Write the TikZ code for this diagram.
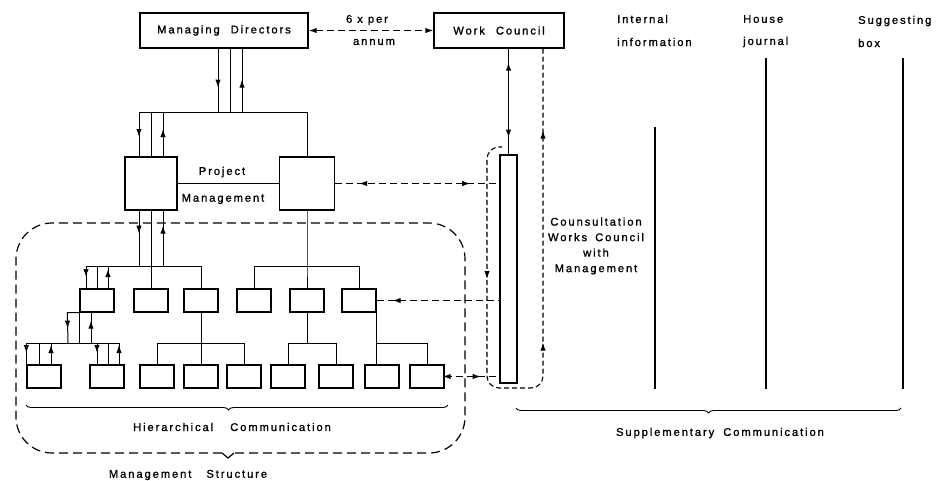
\documentclass[tikz,border=0pt]{standalone}
\usepackage{fontspec}
\newfontfamily\diafont[LetterSpace=17,FakeBold=1.2]{Liberation Sans}
\usetikzlibrary{arrows.meta,decorations.pathreplacing,decorations.markings}

\begin{document}
\begin{tikzpicture}[x=1pt,y=-1pt,
    font=\diafont\fontsize{11.2}{15.5}\selectfont,
    >={Latex[length=8pt,width=5.4pt]},
    box/.style={draw,line width=1.3pt,minimum width=34pt,minimum height=23pt,inner sep=0pt},
    lbl/.style={inner sep=0pt},
    link/.style={line width=1pt},
    dlink/.style={line width=1.1pt,dash pattern=on 7pt off 4pt},
    fwd/.style={postaction={decorate,decoration={markings,mark=at position #1 with {\arrow{>}}}}},
    bwd/.style={postaction={decorate,decoration={markings,mark=at position #1 with {\arrow{<}}}}}
  ]
  \useasboundingbox (0,0) rectangle (947,480);

  % top level
  \node[box,minimum width=168pt,minimum height=35pt] (md) at (224,30.5) {Managing\hspace{6pt} Directors};
  \node[box,minimum width=130pt,minimum height=35pt] (wc) at (499,30.5) {Work\hspace{6pt} Council};
  \draw[dlink,<->] (md) -- (wc);
  \node[lbl] (freq) at (367,20) {6 x per};
  \node[lbl] (annum) at (374,42) {annum};

  % project management
  \node[box,minimum width=52pt,minimum height=53pt] (pml) at (151,183.5) {};
  \node[box,minimum width=55pt,minimum height=53pt] (pmr) at (307,183.5) {};
  \draw[link] (pml) -- (pmr);
  \node[lbl] (proj) at (222,172) {Project};
  \node[lbl] (mgmt) at (223,199) {Management};

  % section heads and groups
  \foreach \n/\x in {a1/97,a2/151,a3/201,a4/254,a5/307,a6/359}
    \node[box] (\n) at (\x,300.5) {};
  \foreach \n/\x in {c1/44,c2/107,c3/157,c4/201,c5/244,c6/288,c7/336,c8/382,c9/427}
    \node[box] (\n) at (\x,376.5) {};

  % works council bar
  \node[draw,line width=1.3pt,minimum width=17pt,minimum height=228pt,inner sep=0pt] (bar) at (508.5,269) {};

  % directors -> project management
  \coordinate (b0) at (0,112);
  \draw[link,fwd=39pt] ([xshift=-6pt]md.south) -- ([xshift=-6pt]md.south |- b0);
  \draw[link] ([xshift=6pt]md.south) -- ([xshift=6pt]md.south |- b0);
  \draw[link,bwd=39pt] ([xshift=18pt]md.south) -- ([xshift=18pt]md.south |- b0);
  \draw[link] ([xshift=-12pt]pml.north |- b0) -- (pmr.north |- b0) -- (pmr.north);
  \draw[link,fwd=25pt] ([xshift=-12pt]pml.north |- b0) -- ([xshift=-12pt]pml.north);
  \draw[link] (pml.north |- b0) -- (pml.north);
  \draw[link,bwd=25pt] ([xshift=12pt]pml.north |- b0) -- ([xshift=12pt]pml.north);

  % project management -> section heads
  \coordinate (b1) at (0,266);
  \draw[link,fwd=23pt] ([xshift=-12pt]pml.south) -- ([xshift=-12pt]pml.south |- b1);
  \draw[link] (pml.south) -- (a2.north);
  \draw[link,bwd=23pt] ([xshift=12pt]pml.south) -- ([xshift=12pt]pml.south |- b1);
  \draw[link] ([xshift=-11pt]a1.north |- b1) -- (a3.north |- b1) -- (a3.north);
  \draw[link,fwd=11pt] ([xshift=-11pt]a1.north |- b1) -- ([xshift=-11pt]a1.north);
  \draw[link] (a1.north |- b1) -- (a1.north);
  \draw[link,bwd=11pt] ([xshift=11pt]a1.north |- b1) -- ([xshift=11pt]a1.north);
  \draw[link] (pmr.south) -- (pmr.south |- b1) -- (a5.north);
  \draw[link] (a4.north) |- (a6.north |- b1) -- (a6.north);

  % section heads -> groups
  \coordinate (b2) at (0,343);
  \draw[link,fwd=28pt] (a1.south west) -- ++(-12,0) -- ([xshift=-29pt]a1.south |- b2);
  \draw[link] (a1.south west) -- (a1.south west |- b2);
  \draw[link,bwd=16pt] ([xshift=-6pt]a1.south) -- ([xshift=-6pt]a1.south |- b2);
  \draw[link] (c1.north west |- b2) -- ([xshift=12pt]c2.north |- b2);
  \draw[link,fwd=10pt] (c1.north west |- b2) -- (c1.north west);
  \draw[link] ([xshift=-5pt]c1.north |- b2) -- ([xshift=-5pt]c1.north);
  \draw[link,bwd=10pt] ([xshift=7pt]c1.north |- b2) -- ([xshift=7pt]c1.north);
  \draw[link,fwd=10pt] ([xshift=-10pt]c2.north |- b2) -- ([xshift=-10pt]c2.north);
  \draw[link] ([xshift=1pt]c2.north |- b2) -- ([xshift=1pt]c2.north);
  \draw[link,bwd=10pt] ([xshift=12pt]c2.north |- b2) -- ([xshift=12pt]c2.north);
  \draw[link] (a3.south) -- (c4.north);
  \draw[link] (c3.north) |- (c5.north |- b2) -- (c5.north);
  \draw[link] (a5.south) -- (a5.south |- b2);
  \draw[link] (c6.north) |- (c7.north |- b2) -- (c7.north);
  \draw[link] (a6.south east) -- (a6.south east |- c8.north);
  \draw[link] (a6.south east |- b2) -| (c9.north);

  % links to the works council
  \draw[dlink,bwd=32pt,fwd=135pt] (pmr.east) -- (pmr.east -| bar.west);
  \draw[dlink,bwd=24pt] (a6.east) -- (a6.east -| bar.west);
  \draw[dlink,bwd=6pt,fwd=36pt] (c9.east) -- (c9.east -| bar.west);
  \draw[link,bwd=22pt,fwd=89pt] (wc.south -| bar.north) -- (bar.north);
  \draw[dlink,dash pattern=on 5pt off 3pt,rounded corners=12pt,bwd=90pt,bwd=302pt,bwd=502pt]
    ([xshift=44pt]wc.south) -- (543,388) -- (487,388) -- (487,147) -- (502,147);
  \node[lbl,align=center] (cons) at (596,246) {Counsultation\\Works\hspace{3pt} Council\\with\\Management};

  % management structure
  \draw[line width=1.2pt,dash pattern=on 9pt off 5pt,rounded corners=36pt]
    (222,453) -- (16,453) -- (16,223) -- (465,223) -- (465,453) -- (234,453);
  \draw[line width=1.2pt] (222,453) -- (228,458) -- (234,453);
  \draw[line width=0.9pt,decorate,decoration={brace,amplitude=5pt,aspect=0.52}] (448,405) -- (26,405);
  \node[lbl] (hier) at (232,427) {Hierarchical\hspace{12pt} Communication};
  \node[lbl] (mstruct) at (188,475) {Management\hspace{10pt} Structure};

  % supplementary communication
  \node[lbl,anchor=west] (int1) at (617,19) {Internal};
  \node[lbl,anchor=west] (int2) at (617,42) {information};
  \node[lbl,anchor=west] (hj1) at (743,19) {House};
  \node[lbl,anchor=west] (hj2) at (743,42) {journal};
  \node[lbl,anchor=west] (sb1) at (858,21) {Suggesting};
  \node[lbl,anchor=west] (sb2) at (858,43) {box};
  \draw[line width=1.6pt] (655,127) -- (655,389);
  \draw[line width=1.6pt] (766,58) -- (766,389);
  \draw[line width=1.6pt] (903,58) -- (903,389);
  \draw[line width=0.9pt,decorate,decoration={brace,amplitude=5pt,aspect=0.5}] (901,408) -- (516,408);
  \node[lbl] (supp) at (720,433) {Supplementary\hspace{4pt} Communication};
\end{tikzpicture}
\end{document}
